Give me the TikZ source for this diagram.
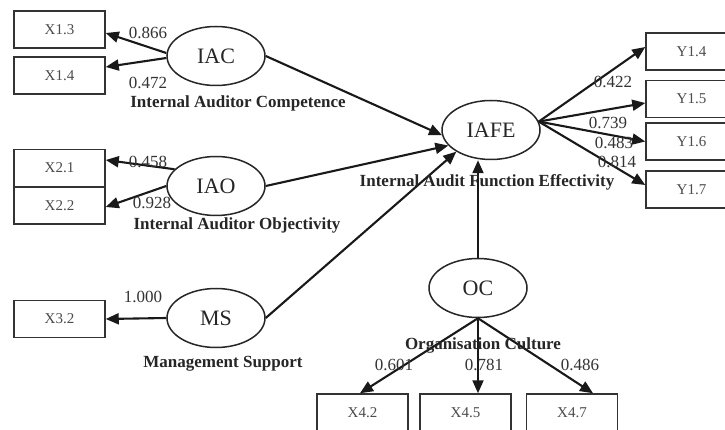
\documentclass[tikz,border=0pt]{standalone}
\usepackage{fontspec}
\setmainfont{Liberation Serif}
\usetikzlibrary{shapes.geometric,arrows.meta}
\begin{document}
\begin{tikzpicture}[x=1pt,y=-1pt,
  ind/.style={draw=black!80,line width=1.5pt,minimum width=91pt,minimum height=37pt,inner sep=0pt,font=\fontsize{15}{15}\selectfont,text=black!70},
  lat/.style={draw=black!85,ellipse,line width=1.5pt,minimum width=98pt,minimum height=59pt,inner sep=0pt,font=\fontsize{22}{22}\selectfont,text=black!85},
  conn/.style={line width=2.1pt,draw=black!90,-{Triangle[length=13pt,width=11pt]}},
  num/.style={font=\fontsize{17}{17}\selectfont,text=black!80,inner sep=0pt},
  captxt/.style={font=\bfseries\fontsize{17}{17}\selectfont,text=black!85,inner sep=0pt}]
\useasboundingbox[fill=white] (0,0) rectangle (725,430);
% indicator boxes
\node[ind] (X13) at (59.5,29.5) {X1.3};
\node[ind] (X14) at (59.5,75.5) {X1.4};
\node[ind] (X21) at (59.5,168) {X2.1};
\node[ind] (X22) at (59.5,205.5) {X2.2};
\node[ind] (X32) at (59.5,319) {X3.2};
\node[ind] (Y14) at (691.5,51.5) {Y1.4};
\node[ind] (Y15) at (691.5,99) {Y1.5};
\node[ind] (Y16) at (691.5,141.5) {Y1.6};
\node[ind] (Y17) at (691.5,189.5) {Y1.7};
\node[ind] (X42) at (362.5,412.5) {X4.2};
\node[ind] (X45) at (465.5,412.5) {X4.5};
\node[ind] (X47) at (572,412.5) {X4.7};
% latent variables
\node[lat] (IAC) at (216,56) {IAC};
\node[lat] (IAO) at (216,186) {IAO};
\node[lat] (MS) at (216,318) {MS};
\node[lat] (IAFE) at (491,130) {IAFE};
\node[lat] (OC) at (478,288) {OC};
% connectors
\draw[conn] ([yshift=3pt]IAC.west) -- ([yshift=-3.5pt]X13.east);
\draw[conn] ([yshift=-2pt]IAC.west) -- ([yshift=8.5pt]X14.east);
\draw[conn] (IAO.158) -- ([yshift=8pt]X21.east);
\draw[conn] (IAO.west) -- ([yshift=-1.5pt]X22.east);
\draw[conn] (MS.west) -- (X32.east);
\draw[conn] (IAC.east) -- (IAFE.186);
\draw[conn] (IAO.east) -- (IAFE.200);
\draw[conn] (MS.east) -- (IAFE.212);
\draw[conn] (OC.north) -- (OC.north |- IAFE.south);
\draw[conn] (IAFE.10) -- ([yshift=4.5pt]Y14.west);
\draw[conn] (IAFE.10) -- ([yshift=-4pt]Y15.west);
\draw[conn] (IAFE.10) -- (Y16.west);
\draw[conn] (IAFE.10) -- ([yshift=4.5pt]Y17.west);
\draw[conn] (OC.south) -- ([xshift=-2.5pt]X42.north);
\draw[conn] (OC.south) -- (OC.south |- X45.north);
\draw[conn] (OC.south) -- ([xshift=21pt]X47.north);
% loadings
\node[num] (l1) at (148,33) {0.866};
\node[num] (l2) at (148,83) {0.472};
\node[num] (l3) at (148,162) {0.458};
\node[num] (l4) at (152,203) {0.928};
\node[num] (l5) at (143,297) {1.000};
\node[num] (l6) at (613,82) {0.422};
\node[num] (l7) at (608,123) {0.739};
\node[num] (l8) at (614,143) {0.483};
\node[num] (l9) at (617,162) {0.814};
\node[num] (l10) at (394,365) {0.601};
\node[num] (l11) at (484,365) {0.781};
\node[num] (l12) at (580,365) {0.486};
% captions
\node[captxt] (cIAC) at (238,103) {Internal Auditor Competence};
\node[captxt] (cIAO) at (237,225) {Internal Auditor Objectivity};
\node[captxt] (cMS) at (223,364) {Management Support};
\node[captxt] (cIAFE) at (487,182) {Internal Audit Function Effectivity};
\node[captxt] (cOC) at (483,345) {Organisation Culture};
\end{tikzpicture}
\end{document}
